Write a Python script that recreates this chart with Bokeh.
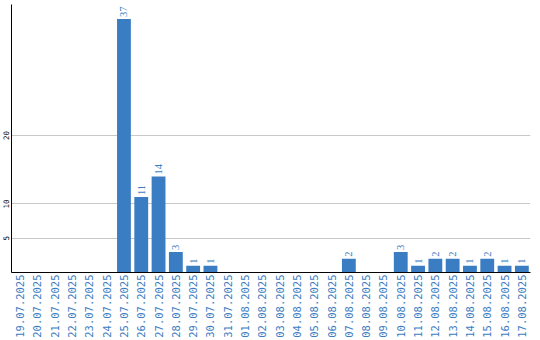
import math
from bokeh.plotting import figure
from bokeh.models import ColumnDataSource, FactorRange, Range1d, FixedTicker, LabelSet
from bokeh.embed import file_html
from bokeh.resources import INLINE

dates = ["19.07.2025", "20.07.2025", "21.07.2025", "22.07.2025", "23.07.2025",
         "24.07.2025", "25.07.2025", "26.07.2025", "27.07.2025", "28.07.2025",
         "29.07.2025", "30.07.2025", "31.07.2025", "01.08.2025", "02.08.2025",
         "03.08.2025", "04.08.2025", "05.08.2025", "06.08.2025", "07.08.2025",
         "08.08.2025", "09.08.2025", "10.08.2025", "11.08.2025", "12.08.2025",
         "13.08.2025", "14.08.2025", "15.08.2025", "16.08.2025", "17.08.2025"]
counts = [0, 0, 0, 0, 0, 0, 37, 11, 14, 3, 1, 1, 0, 0, 0, 0, 0, 0, 0, 2,
          0, 0, 3, 1, 2, 2, 1, 2, 1, 1]
y_ticks = [5, 10, 20]

BLUE = "#3b7dc2"
FONT = "DejaVu Sans Mono"

src = ColumnDataSource(data=dict(d=dates, v=counts))
nz = [(d, v) for d, v in zip(dates, counts) if v > 0]
lab_src = ColumnDataSource(data=dict(d=[a for a, b in nz], v=[b for a, b in nz],
                                     t=[str(b) for a, b in nz]))

p = figure(width=540, height=340, x_range=FactorRange(*dates), y_range=Range1d(0, 39.1),
           output_backend="svg", toolbar_location=None,
           min_border_left=11, min_border_right=10, min_border_top=4, min_border_bottom=10)

p.vbar(x="d", top="v", width=0.8, source=src, color=BLUE, line_color=None)

labels = LabelSet(x="d", y="v", text="t", source=lab_src, angle=math.pi / 2,
                  text_align="left", text_baseline="middle", y_offset=2,
                  text_color=BLUE, text_font=FONT, text_font_size="10.5px")
p.add_layout(labels)

p.outline_line_color = None
p.xgrid.grid_line_color = None
p.ygrid.ticker = FixedTicker(ticks=y_ticks)
p.ygrid.grid_line_color = "#c8c8c8"
p.ygrid.grid_line_width = 1

p.yaxis.ticker = FixedTicker(ticks=y_ticks)
p.yaxis.major_label_orientation = "parallel"
p.yaxis.major_label_text_font = FONT
p.yaxis.major_label_text_font_size = "7.5px"
p.yaxis.major_label_text_color = "black"
p.yaxis.major_tick_line_color = None
p.yaxis.minor_tick_line_color = None
p.yaxis.major_tick_out = 0
p.yaxis.major_tick_in = 0
p.yaxis.minor_tick_out = 0
p.yaxis.minor_tick_in = 0
p.yaxis.major_label_standoff = 2
p.yaxis.axis_line_color = "black"

p.xaxis.major_label_orientation = math.pi / 2
p.xaxis.major_label_text_font = FONT
p.xaxis.major_label_text_font_size = "10.5px"
p.xaxis.major_label_text_color = BLUE
p.xaxis.major_tick_line_color = None
p.xaxis.minor_tick_line_color = None
p.xaxis.major_tick_out = 0
p.xaxis.major_tick_in = 0
p.xaxis.major_label_standoff = 2
p.xaxis.axis_line_color = "black"

p.background_fill_color = "white"
p.border_fill_color = "white"

open("out.html", "w").write(file_html(p, INLINE))
